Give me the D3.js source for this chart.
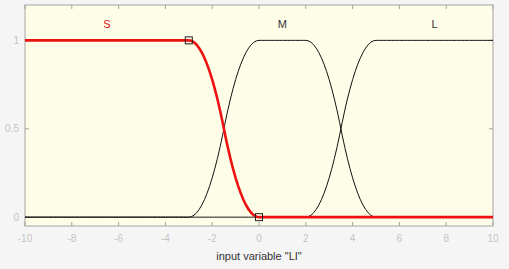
<!DOCTYPE html>
<html>
<head>
<meta charset="utf-8">
<script src="https://cdn.jsdelivr.net/npm/d3@7"></script>
<style>
  body { margin: 0; background: #f5f5f5; }
  svg { display: block; font-family: "Liberation Sans", Arial, sans-serif; }
  .tk { fill: #c4c4c4; font-size: 10px; }
</style>
</head>
<body>
<svg id="chart" width="509" height="269"></svg>
<script>
// membership functions of input variable "LI"
var mfNames = ["S", "M", "L"];
var mfTypes = ["zmf", "pimf", "smf"];
var mfParams = [[-3, 0], [-3, 0, 2, 5], [2, 5]];
var selected = 0;
var xTicks = [-10, -8, -6, -4, -2, 0, 2, 4, 6, 8, 10];
var yTicks = [0, 0.5, 1];
var xRange = [-10, 10];
var nPoints = 181;

var svg = d3.select("#chart"),
    width = +svg.attr("width"),
    height = +svg.attr("height");

var x = d3.scaleLinear().domain(xRange).range([25, 493]);
var y = d3.scaleLinear().domain([-0.05, 1.2]).range([226, 5]);

function zmf(v, p) {
  var a = p[0], b = p[1], m = (a + b) / 2;
  if (v <= a) return 1;
  if (v <= m) return 1 - 2 * Math.pow((v - a) / (b - a), 2);
  if (v <= b) return 2 * Math.pow((v - b) / (b - a), 2);
  return 0;
}
function smf(v, p) { return 1 - zmf(v, p); }
function pimf(v, p) { return smf(v, [p[0], p[1]]) * zmf(v, [p[2], p[3]]); }
var fns = { zmf: zmf, smf: smf, pimf: pimf };

// sample points along the input range
var xs = d3.range(nPoints).map(function(i) {
  return xRange[0] + i * (xRange[1] - xRange[0]) / (nPoints - 1);
});

// axes background
svg.append("rect")
  .attr("x", x(-10)).attr("y", y(1.2))
  .attr("width", x(10) - x(-10)).attr("height", y(-0.05) - y(1.2))
  .attr("fill", "#fefee8")
  .attr("stroke", "#a3a3a3");

// inward ticks, bottom/top and left/right
var tg = svg.append("g").attr("stroke", "#a3a3a3");
xTicks.forEach(function(t) {
  tg.append("line").attr("x1", x(t)).attr("x2", x(t)).attr("y1", y(-0.05)).attr("y2", y(-0.05) - 4);
  tg.append("line").attr("x1", x(t)).attr("x2", x(t)).attr("y1", y(1.2)).attr("y2", y(1.2) + 4);
});
yTicks.forEach(function(t) {
  tg.append("line").attr("x1", x(-10)).attr("x2", x(-10) + 4).attr("y1", y(t)).attr("y2", y(t));
  tg.append("line").attr("x1", x(10)).attr("x2", x(10) - 4).attr("y1", y(t)).attr("y2", y(t));
});

svg.append("g").selectAll("text")
  .data(xTicks).enter().append("text")
  .attr("class", "tk")
  .attr("x", function(d) { return x(d); })
  .attr("y", 242)
  .attr("text-anchor", "middle")
  .text(function(d) { return d; });

svg.append("g").selectAll("text")
  .data(yTicks).enter().append("text")
  .attr("class", "tk")
  .attr("x", x(-10) - 6)
  .attr("y", function(d) { return y(d) + 3.5; })
  .attr("text-anchor", "end")
  .text(function(d) { return d; });

svg.append("text")
  .attr("x", x(0))
  .attr("y", 260)
  .attr("text-anchor", "middle")
  .attr("fill", "#333")
  .style("font-size", "11px")
  .text("input variable \"LI\"");

var line = d3.line()
  .x(function(d) { return x(d[0]); })
  .y(function(d) { return y(d[1]); });

// draw non-selected first so the red curve sits on top
var order = [0, 1, 2].filter(function(i) { return i != selected; }).concat([selected]);
order.forEach(function(i) {
  var pts = xs.map(function(v) { return [v, fns[mfTypes[i]](v, mfParams[i])]; });
  svg.append("path")
    .attr("d", line(pts))
    .attr("fill", "none")
    .attr("stroke", i == selected ? "#ee1111" : "#111")
    .attr("stroke-width", i == selected ? 2.6 : 1);
});

// plateau centre for labels
mfNames.forEach(function(n, i) {
  var top = xs.filter(function(v) { return fns[mfTypes[i]](v, mfParams[i]) >= 0.9999; });
  var cx = (d3.min(top) + d3.max(top)) / 2;
  svg.append("text")
    .attr("x", x(cx))
    .attr("y", 28)
    .attr("text-anchor", "middle")
    .attr("fill", i == selected ? "#dd1122" : "#333")
    .style("font-size", "11px")
    .text(n);
});

// handles on the selected mf
var sp = mfParams[selected];
svg.append("g").selectAll("rect")
  .data([[sp[0], 1], [sp[1], 0]]).enter().append("rect")
  .attr("x", function(d) { return x(d[0]) - 3.5; })
  .attr("y", function(d) { return y(d[1]) - 3.5; })
  .attr("width", 7).attr("height", 7)
  .attr("fill", "none")
  .attr("stroke", "#222");
</script>
</body>
</html>
